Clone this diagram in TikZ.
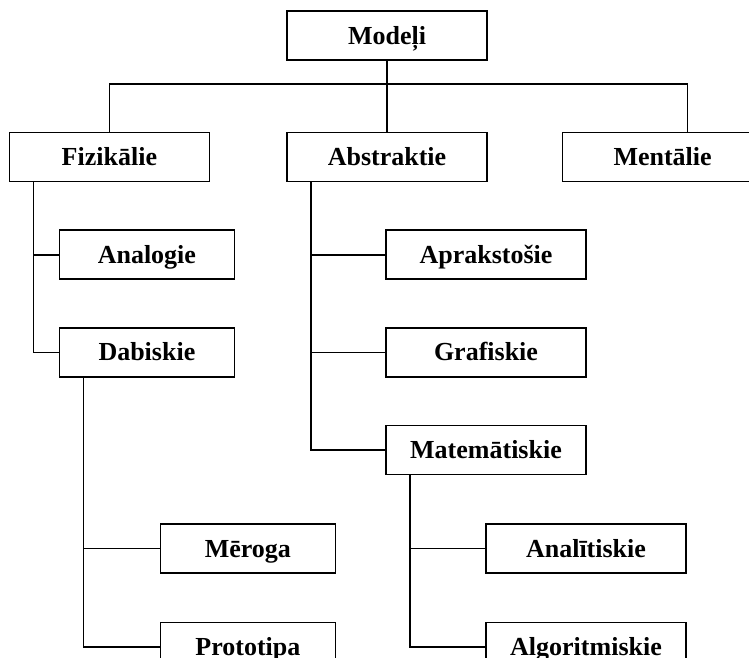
\documentclass[tikz,border=0pt]{standalone}
\usepackage{fontspec}
\setmainfont{Liberation Serif}
\usepackage{tikz}
\usetikzlibrary{calc}
\usetikzlibrary{positioning}

\begin{document}
\begin{tikzpicture}[
    x=1pt, y=1pt,
    font=\bfseries\fontsize{26}{30}\selectfont,
    line width=1.6pt
  ]

  % Box styles
  \tikzset{
    box/.style={draw=black, minimum width=200pt, minimum height=49pt, inner sep=0pt, text height=17.2pt, text depth=0pt, align=center},
    smallbox/.style={box, minimum width=175pt}
  }

  % Page frame (boxes run past the right and bottom edges)
  \useasboundingbox (0,0) rectangle (749,-657);
  \clip (0,0) rectangle (749,-657);

  % Top level
  \node (modeli)   [box] at (387,-35.5) {Modeļi};
  \node (abstrakt) [box, below=71pt of modeli] {Abstraktie};
  \node (fiz)      [box, left=76pt of abstrakt] {Fizikālie};
  \node (ment)     [box, right=74pt of abstrakt] {Mentālie};

  % Physical models
  \node (analogie) [smallbox, below=47pt of fiz, xshift=37.5pt] {Analogie};
  \node (dabiskie) [smallbox, below=47pt of analogie] {Dabiskie};

  % Abstract models
  \node (aprakst)  [box, below=47pt of abstrakt, xshift=99pt] {Aprakstošie};
  \node (grafisk)  [box, below=47pt of aprakst] {Grafiskie};
  \node (matem)    [box, below=47pt of grafisk] {Matemātiskie};
  \node (analit)   [box, below=48pt of matem, xshift=100pt] {Analītiskie};
  \node (algor)    [box, below=48pt of analit] {Algoritmiskie};

  % Natural models
  \node (meroga)   [smallbox, left=149pt of analit] {Mēroga};
  \node (prototip) [smallbox, left=149pt of algor] {Prototipa};

  % Trunk points
  \coordinate (bus)      at ($(modeli.south)+(0,-23)$);
  \coordinate (mentin)   at ($(ment.north)+(25,0)$);
  \coordinate (fiztr)    at ($(fiz.south west)+(25,0)$);
  \coordinate (abstr)    at ($(abstrakt.south west)+(25,0)$);
  \coordinate (dabtr)    at ($(dabiskie.south west)+(25,0)$);
  \coordinate (mattr)    at ($(matem.south west)+(25,0)$);

  % Connectors
  \draw (modeli.south) -- (abstrakt.north);
  \draw (fiz.north) |- (bus) -| (mentin);

  \draw (fiztr) |- (analogie.west);
  \draw (fiztr) |- (dabiskie.west);

  \draw (abstr) |- (aprakst.west);
  \draw (abstr) |- (grafisk.west);
  \draw (abstr) |- (matem.west);

  \draw (dabtr) |- (meroga.west);
  \draw (dabtr) |- (prototip.west);

  \draw (mattr) |- (analit.west);
  \draw (mattr) |- (algor.west);

\end{tikzpicture}
\end{document}
